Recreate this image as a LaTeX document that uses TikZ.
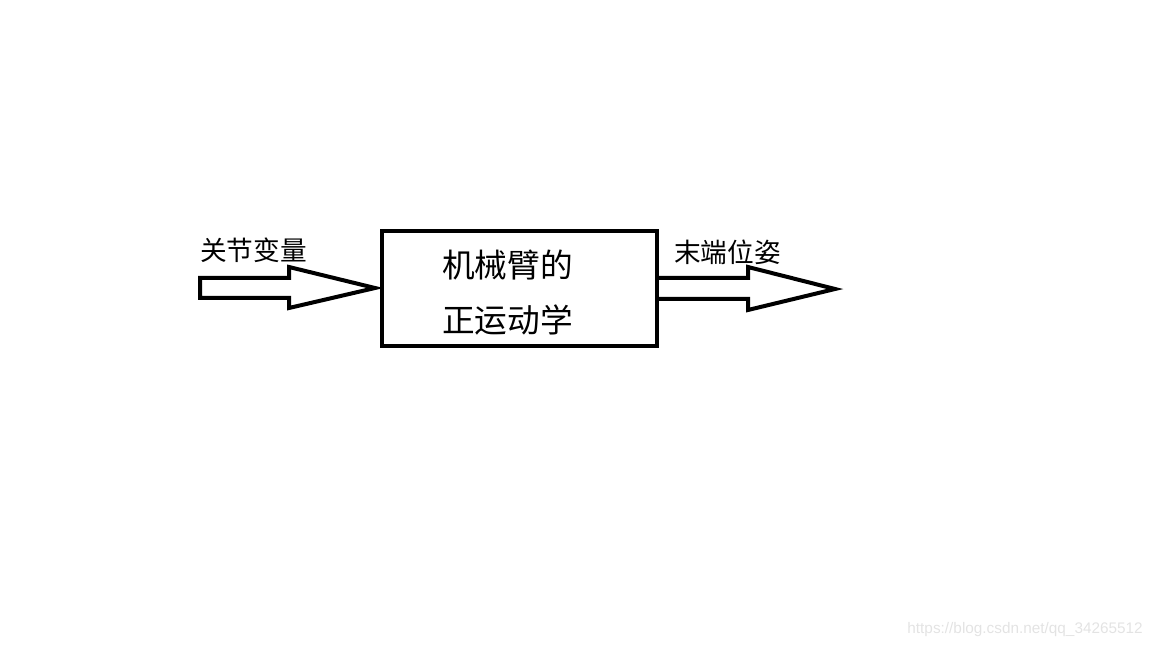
\documentclass[tikz,border=0pt]{standalone}
\usepackage{fontspec}
\newfontfamily\cjk{Noto Sans CJK SC}
\setsansfont{Liberation Sans}
\begin{document}
\begin{tikzpicture}[x=0.75pt,y=-0.75pt,
  outline/.style={draw=black,line width=3pt,line join=miter},
  lbl/.style={font=\cjk\fontsize{20}{24}\selectfont,inner sep=0pt,anchor=west},
  boxtxt/.style={font=\cjk\fontsize{24.5}{30}\selectfont,inner sep=0pt,anchor=west}]
\useasboundingbox (0,0) rectangle (1152,648);
% block
\node[outline,minimum width=275*0.75pt,minimum height=115*0.75pt,inner sep=0pt] (blk) at (519.5,288.5) {};
\node[boxtxt] (t1) at (442,265) {机械臂的};
\node[boxtxt] (t2) at (442,320) {正运动学};
% left input arrow
\coordinate (lt) at (375,288);
\draw[outline] (200,278) -- (289,278) -- (289,267) -- (lt) -- (289,308) -- (289,298) -- (200,298) -- cycle;
\node[lbl] (inl) at (200,250) {关节变量};
% right output arrow
\coordinate (rt) at (835,289);
\draw[outline] (blk.east |- 0,278) -- (748,278) -- (748,267) -- (rt) -- (748,310) -- (748,299) -- (blk.east |- 0,299);
\node[lbl] (outl) at (674,252) {末端位姿};
% watermark
\node[font=\sffamily\fontsize{11.5}{14}\selectfont,text=black!11,anchor=east,inner sep=0pt] (wm) at (1143,630) {https://blog.csdn.net/qq\_34265512};
\end{tikzpicture}
\end{document}
